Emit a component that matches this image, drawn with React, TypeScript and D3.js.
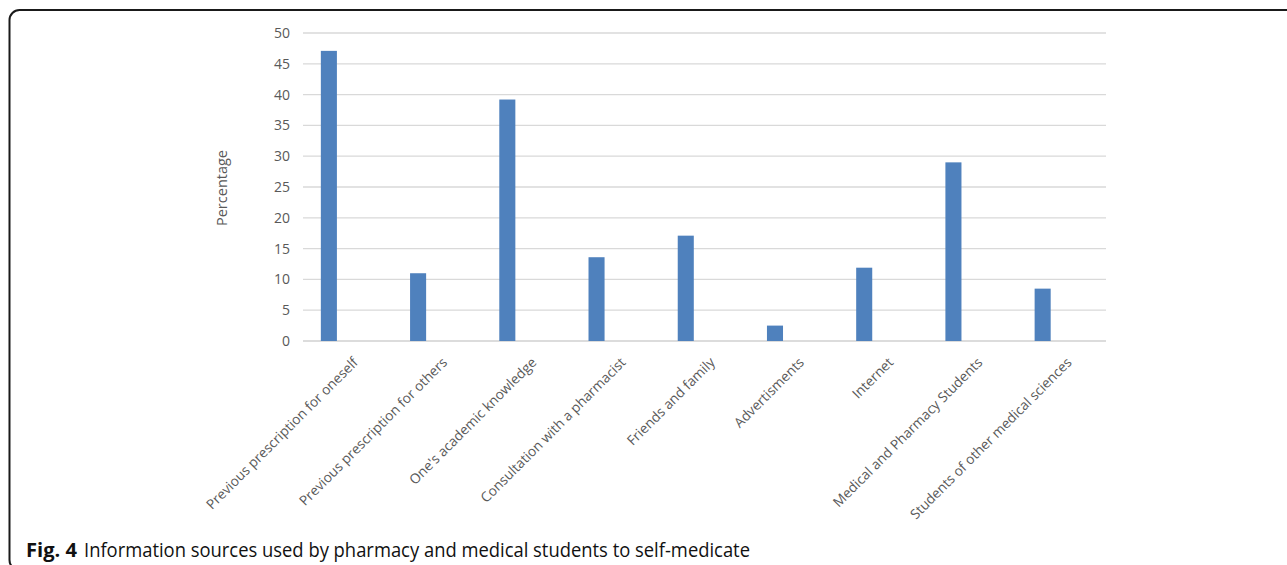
import React from "react";
import * as d3 from "d3";

// Information sources and the share of students using each (%)
const categories: string[] = [
  "Previous prescription for oneself",
  "Previous prescription for others",
  "One's academic knowledge",
  "Consultation with a pharmacist",
  "Friends and family",
  "Advertisments",
  "Internet",
  "Medical and Pharmacy Students",
  "Students of other medical sciences",
];
const percentages: number[] = [47.1, 11.0, 39.2, 13.6, 17.1, 2.5, 11.9, 29.0, 8.5];
const yTicks: number[] = [0, 5, 10, 15, 20, 25, 30, 35, 40, 45, 50];

const W = 1287;
const H = 565;
const plot = { left: 303, right: 1106, top: 33, bottom: 341 };
const textGray = "#595959";
const font = "'Open Sans', 'Noto Sans', sans-serif";

export default function App() {
  const x = d3.scaleBand<string>().domain(categories).range([plot.left, plot.right]).padding(0);
  const y = d3.scaleLinear().domain([0, 50]).range([plot.bottom, plot.top]);
  const bw = x.bandwidth();
  const barW = bw * 0.18;
  const barOffset = bw * 0.2;

  return (
    <svg
      width={W}
      height={H}
      viewBox={`0 0 ${W} ${H}`}
      style={{ position: "absolute", left: 0, top: 0, background: "#fff" }}
    >
      {/* figure frame */}
      <rect x={9.5} y={10} width={1320} height={560} rx={10} ry={10} fill="#fff" stroke="#1a1a1a" strokeWidth={2} />

      {/* horizontal gridlines */}
      {yTicks.map((t) => (
        <line
          key={`g${t}`}
          x1={plot.left}
          x2={plot.right}
          y1={y(t)}
          y2={y(t)}
          stroke={t === 0 ? "#d0d0d0" : "#d9d9d9"}
          strokeWidth={1.3}
        />
      ))}

      {/* y tick labels */}
      {yTicks.map((t) => (
        <text
          key={`t${t}`}
          x={290}
          y={y(t)}
          dy="0.36em"
          textAnchor="end"
          fontFamily={font}
          fontSize={14}
          fill={textGray}
        >
          {t}
        </text>
      ))}

      {/* y axis title */}
      <text
        transform={`translate(227, ${(plot.top + plot.bottom) / 2 + 1}) rotate(-90)`}
        textAnchor="middle"
        fontFamily={font}
        fontSize={14.5}
        fill={textGray}
      >
        Percentage
      </text>

      {/* bars */}
      {categories.map((c, i) => (
        <rect
          key={`b${i}`}
          x={(x(c) as number) + barOffset}
          y={y(percentages[i])}
          width={barW}
          height={y(0) - y(percentages[i])}
          fill="#4f81bd"
        />
      ))}

      {/* rotated category labels */}
      {categories.map((c, i) => {
        const cx = (x(c) as number) + bw / 2 + 4;
        return (
          <text
            key={`l${i}`}
            transform={`translate(${cx}, 356) rotate(-45)`}
            dy="0.75em"
            textAnchor="end"
            fontFamily={font}
            fontSize={13.7}
            fill={textGray}
          >
            {c}
          </text>
        );
      })}

      {/* caption */}
      <text x={26} y={557} fontFamily={font} fontSize={20} fontWeight="bold" fill="#111" textLength={51} lengthAdjust="spacingAndGlyphs">
        Fig. 4
      </text>
      <text x={84} y={557} fontFamily={font} fontSize={20} fill="#111" textLength={666} lengthAdjust="spacingAndGlyphs">
        Information sources used by pharmacy and medical students to self-medicate
      </text>
    </svg>
  );
}
